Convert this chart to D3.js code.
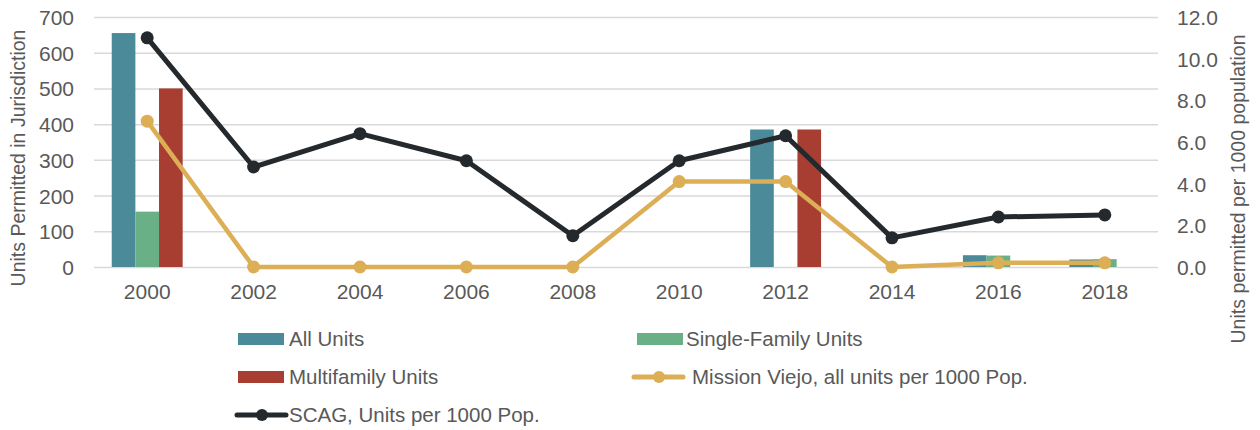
<!DOCTYPE html>
<html>
<head>
<meta charset="utf-8">
<script src="https://cdn.jsdelivr.net/npm/d3@7"></script>
<style>
  body { margin: 0; background: #fff; }
  text { font-family: "Liberation Sans", Arial, sans-serif; fill: #595959; }
</style>
</head>
<body>
<div id="chart"></div>
<script>
// values
const years = ["2000", "2002", "2004", "2006", "2008", "2010", "2012", "2014", "2016", "2018"];
const allUnits = [655, 0, 0, 0, 0, 0, 385, 0, 33, 21];
const singleFamily = [155, 0, 0, 0, 0, 0, 0, 0, 32, 22];
const multifamily = [500, 0, 0, 0, 0, 0, 385, 0, 0, 0];
const missionViejo = [7.0, 0, 0, 0, 0, 4.1, 4.1, 0, 0.2, 0.2];
const scag = [11.0, 4.8, 6.4, 5.1, 1.5, 5.1, 6.3, 1.4, 2.4, 2.5];
const leftTicks = [0, 100, 200, 300, 400, 500, 600, 700];
const rightTicks = [0, 2, 4, 6, 8, 10, 12];

const width = 1260, height = 430;
const margin = { top: 17, left: 94, right: 102, bottom: 163 };

const svg = d3.select("#chart")
    .append("svg")
    .attr("width", width)
    .attr("height", height);

let x = d3.scaleBand()
    .domain(years)
    .range([margin.left, width - margin.right])
    .paddingInner(1 / 3)
    .paddingOuter(1 / 6);

let barSeries = ["all", "single", "multi"];
let xs = d3.scaleBand().domain(barSeries).range([0, x.bandwidth()]);

let yLeft = d3.scaleLinear().domain([0, 700]).range([height - margin.bottom, margin.top]);
let yRight = d3.scaleLinear().domain([0, 12]).range([height - margin.bottom, margin.top]);

const colors = { all: "#4a8a99", single: "#6ab087", multi: "#a83d31", mv: "#dcae55", scag: "#23292c" };

// gridlines
svg.append("g")
    .attr("class", "grid")
    .attr("transform", `translate(${margin.left},0)`)
    .call(d3.axisLeft(yLeft).tickValues(leftTicks).tickSize(-(width - margin.left - margin.right)).tickFormat(""))
    .call(g => g.select(".domain").remove())
    .call(g => g.selectAll("line").attr("stroke", "#d9d9d9").attr("stroke-width", 1.5));

// left axis labels
svg.append("g")
    .attr("transform", `translate(${margin.left},0)`)
    .call(d3.axisLeft(yLeft).tickValues(leftTicks).tickSize(0).tickPadding(20))
    .call(g => g.select(".domain").remove())
    .call(g => g.selectAll("text").style("font-size", "21px").attr("dy", "0.36em"));

// right axis labels
svg.append("g")
    .attr("transform", `translate(${width - margin.right},0)`)
    .call(d3.axisRight(yRight).tickValues(rightTicks).tickSize(0).tickPadding(19).tickFormat(d3.format(".1f")))
    .call(g => g.select(".domain").remove())
    .call(g => g.selectAll("text").style("font-size", "21px").attr("dy", "0.36em"));

// x axis labels
svg.append("g")
    .attr("transform", `translate(0,${height - margin.bottom})`)
    .call(d3.axisBottom(x).tickSize(0).tickPadding(17))
    .call(g => g.select(".domain").remove())
    .call(g => g.selectAll("text").style("font-size", "21px"));

// axis titles
svg.append("text")
    .attr("transform", "translate(25,158) rotate(-90)")
    .attr("text-anchor", "middle")
    .style("font-size", "19.5px")
    .text("Units Permitted in Jurisdiction");

svg.append("text")
    .attr("transform", "translate(1245,189) rotate(-90)")
    .attr("text-anchor", "middle")
    .style("font-size", "19.5px")
    .text("Units permitted per 1000 population");

// bars
let barData = [];
years.forEach(function (yr, i) {
    barData.push({ year: yr, key: "all", value: allUnits[i] });
    barData.push({ year: yr, key: "single", value: singleFamily[i] });
    barData.push({ year: yr, key: "multi", value: multifamily[i] });
});

svg.append("g")
    .selectAll("rect")
    .data(barData.filter(d => d.value > 0))
    .join("rect")
    .attr("x", d => x(d.year) + xs(d.key))
    .attr("y", d => yLeft(d.value))
    .attr("width", xs.bandwidth())
    .attr("height", d => yLeft(0) - yLeft(d.value))
    .attr("fill", d => colors[d.key]);

// lines
let cx = d => x(d) + x.bandwidth() / 2;

function drawLine(values, color, w, r) {
    let pts = years.map((yr, i) => ({ year: yr, value: values[i] }));
    let line = d3.line()
        .x(d => cx(d.year))
        .y(d => yRight(d.value));
    svg.append("path")
        .datum(pts)
        .attr("d", line)
        .attr("fill", "none")
        .attr("stroke", color)
        .attr("stroke-width", w)
        .attr("stroke-linejoin", "round");
    svg.append("g")
        .selectAll("circle")
        .data(pts)
        .join("circle")
        .attr("cx", d => cx(d.year))
        .attr("cy", d => yRight(d.value))
        .attr("r", r)
        .attr("fill", color);
}

drawLine(missionViejo, colors.mv, 4.5, 6.5);
drawLine(scag, colors.scag, 5, 6.5);

// legend
let legend = svg.append("g").attr("class", "legend");
let legendItems = [
    { label: "All Units", type: "rect", color: colors.all, x: 238, y: 339, tx: 289 },
    { label: "Single-Family Units", type: "rect", color: colors.single, x: 637, y: 339, tx: 686 },
    { label: "Multifamily Units", type: "rect", color: colors.multi, x: 238, y: 377, tx: 289 },
    { label: "Mission Viejo, all units per 1000 Pop.", type: "line", color: colors.mv, x: 634, y: 377, tx: 692 },
    { label: "SCAG, Units per 1000 Pop.", type: "line", color: colors.scag, x: 237, y: 415, tx: 289 }
];

legendItems.forEach(function (d) {
    if (d.type === "rect") {
        legend.append("rect")
            .attr("x", d.x).attr("y", d.y - 6)
            .attr("width", 46).attr("height", 12)
            .attr("fill", d.color);
    } else {
        legend.append("line")
            .attr("x1", d.x).attr("x2", d.x + 49)
            .attr("y1", d.y).attr("y2", d.y)
            .attr("stroke", d.color)
            .attr("stroke-width", 5)
            .attr("stroke-linecap", "round");
        legend.append("circle")
            .attr("cx", d.x + 25).attr("cy", d.y)
            .attr("r", 6)
            .attr("fill", d.color);
    }
    legend.append("text")
        .attr("x", d.tx)
        .attr("y", d.y)
        .attr("dy", "0.36em")
        .style("font-size", "20.5px")
        .text(d.label);
});
</script>
</body>
</html>
